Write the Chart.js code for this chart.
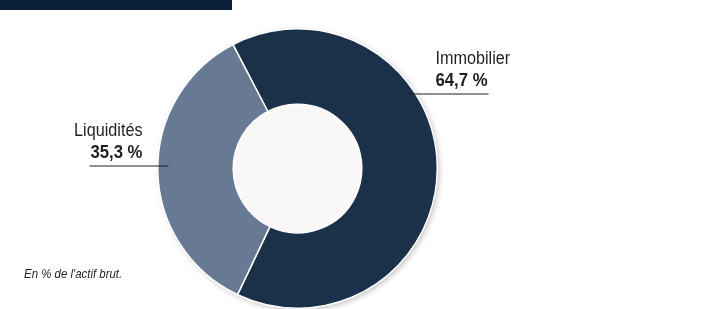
<!DOCTYPE html>
<html>
<head>
<meta charset="utf-8">
<script src="https://cdn.jsdelivr.net/npm/chart.js@4"></script>
<style>
  html, body { margin: 0; padding: 0; background: #ffffff; }
  #wrap { position: relative; width: 706px; height: 309px; overflow: hidden; }
  #topBar { position: absolute; left: 0; top: 0; width: 232px; height: 10px; background: #0b1f38; }
  #note {
    position: absolute; left: 24px; top: 266px;
    font-family: 'Liberation Sans', Arial, sans-serif;
    font-style: italic; font-size: 13px; color: #231f20;
    transform: scaleX(0.88); transform-origin: left top; white-space: nowrap;
  }
</style>
</head>
<body>
<div id="wrap">
  <canvas id="pieChart" width="706" height="309"></canvas>
  <div id="topBar"></div>
  <div id="note">En % de l'actif brut.</div>
</div>
<script>
// Chart data
const categories = ['Immobilier', 'Liquidités'];
const shares = [64.7, 35.3];
const sliceColors = ['#1b3149', '#687a93'];

const textColor = '#231f20';
const fontFam = "'Liberation Sans', Arial, sans-serif";
const squeeze = 0.9; // condensed look

// label placement relative to pie centre
const labelLayout = [
  { side: 'right', dy: -75, lineFrom: 110, lineTo: 191, textX: 138 },
  { side: 'left', dy: -3, lineFrom: -208, lineTo: -129, textX: -155 }
];

const fmt = v => v.toFixed(1).replace('.', ',') + ' %';

function narrowText(ctx, text, x, y, k) {
  ctx.save();
  ctx.translate(x, y);
  ctx.scale(k, 1);
  ctx.fillText(text, 0, 0);
  ctx.restore();
}

const pieExtras = {
  id: 'pieExtras',
  beforeDatasetsDraw(chart) {
    const arc = chart.getDatasetMeta(0).data[0];
    if (!arc) return;
    const ctx = chart.ctx;
    ctx.save();
    ctx.shadowColor = 'rgba(0,0,0,0.28)';
    ctx.shadowBlur = 6;
    ctx.shadowOffsetX = 2;
    ctx.shadowOffsetY = 2;
    ctx.fillStyle = '#faf8f6';
    ctx.beginPath();
    ctx.arc(arc.x, arc.y, arc.outerRadius - 0.5, 0, Math.PI * 2);
    ctx.fill();
    ctx.restore();
  },
  afterDatasetsDraw(chart) {
    const arc = chart.getDatasetMeta(0).data[0];
    if (!arc) return;
    const ctx = chart.ctx;
    const cx = arc.x, cy = arc.y;
    ctx.save();
    labelLayout.forEach((l, i) => {
      const y = cy + l.dy;
      ctx.strokeStyle = '#231f20';
      ctx.lineWidth = 1;
      ctx.beginPath();
      ctx.moveTo(cx + l.lineFrom, y + 0.5);
      ctx.lineTo(cx + l.lineTo, y + 0.5);
      ctx.stroke();

      ctx.fillStyle = textColor;
      ctx.textAlign = l.side === 'right' ? 'left' : 'right';
      ctx.textBaseline = 'alphabetic';
      ctx.font = '18px ' + fontFam;
      narrowText(ctx, categories[i], cx + l.textX, y - 30, squeeze);
      ctx.font = 'bold 18px ' + fontFam;
      narrowText(ctx, fmt(shares[i]), cx + l.textX, y - 8, 0.93);
    });
    ctx.restore();
  }
};

new Chart(document.getElementById('pieChart'), {
  type: 'doughnut',
  data: {
    labels: categories,
    datasets: [{
      data: shares,
      backgroundColor: sliceColors,
      borderColor: '#ffffff',
      borderWidth: 1.5,
      hoverOffset: 0
    }]
  },
  options: {
    responsive: false,
    animation: false,
    rotation: -27.5,
    cutout: '46%',
    layout: { padding: { left: 157, right: 268, top: 28, bottom: 0 } },
    plugins: {
      legend: { display: false },
      tooltip: { enabled: false }
    }
  },
  plugins: [pieExtras]
});
</script>
</body>
</html>
